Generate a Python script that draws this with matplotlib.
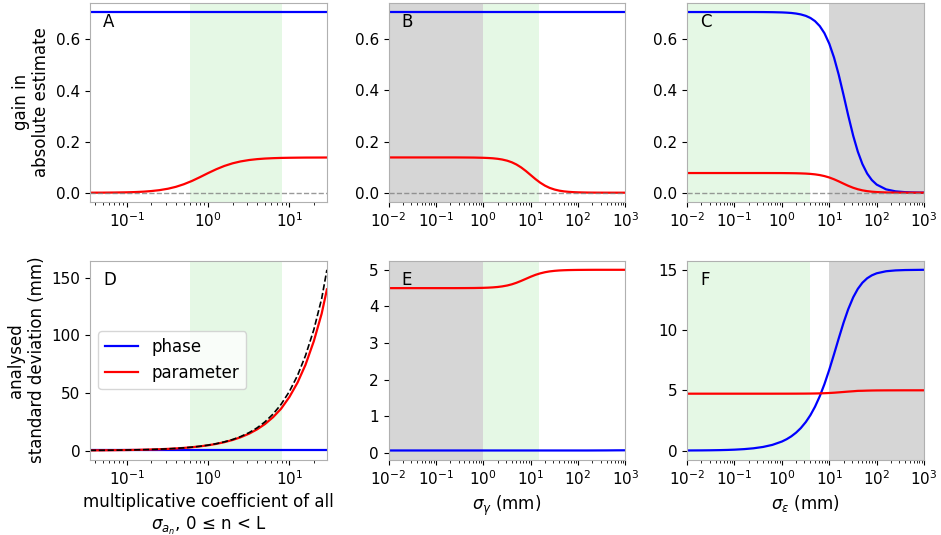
#!/usr/bin/env python3
# -*- coding: utf-8 -*-

import numpy as np
import matplotlib
matplotlib.use('Agg')
import matplotlib.pyplot as plt
from matplotlib.ticker import LogLocator, NullFormatter

# ---- data ----
# panels A / D : multiplicative coefficient of all sigma_a_n
x_coef = [0.035, 0.05, 0.07, 0.1, 0.13, 0.16, 0.2, 0.25, 0.32, 0.4, 0.5, 0.63, 0.79, 1.0, 1.26, 1.58, 2.0, 2.5, 3.2, 4.0,
          5.0, 6.3, 7.9, 10., 12.6, 15.8, 20., 25., 29.]
gain_param_A = [0.0002, 0.0004, 0.0009, 0.0017, 0.0029, 0.0043, 0.0067, 0.0101, 0.0158, 0.0232, 0.0332, 0.0461, 0.0609,
                0.0771, 0.0921, 0.1048, 0.1152, 0.1225, 0.1281, 0.1315, 0.1338, 0.1353, 0.1363, 0.1369, 0.1373, 0.1376,
                0.1377, 0.1378, 0.1379]
gain_phase_A = [0.707]*len(x_coef)
std_param_D = [0.16, 0.23, 0.32, 0.46, 0.6, 0.74, 0.92, 1.15, 1.47, 1.84, 2.3, 2.9, 3.63, 4.6, 5.8, 7.27, 9.2, 11.5, 14.7,
               18.4, 23., 29., 36.3, 46.5, 59., 74.5, 95., 119., 140.]
std_prior_D = [0.165, 0.235, 0.33, 0.47, 0.61, 0.75, 0.94, 1.18, 1.5, 1.88, 2.35, 2.96, 3.72, 4.72, 5.98, 7.55, 9.6, 12.1,
               15.6, 19.7, 24.9, 31.7, 40.1, 51.3, 65.2, 82.5, 105., 132., 157.]
std_phase_D = [0.07]*len(x_coef)

# panels B-C / E-F : sigma_gamma and sigma_epsilon share the same sampling
x_sig = [0.01, 0.02, 0.03, 0.05, 0.07, 0.1, 0.16, 0.25, 0.4, 0.63, 1.0, 1.26, 1.58, 2.0, 2.5, 3.2, 4.0, 5.0, 6.3, 7.9,
         10., 12.6, 15.8, 20., 25., 32., 40., 50., 63., 79., 100., 158., 250., 400., 630., 1000.]

gain_param_B = [0.138]*8 + [0.1378, 0.1375, 0.1366, 0.1358, 0.1347, 0.1327, 0.1299, 0.1252, 0.1190, 0.1104, 0.0988,
                0.0850, 0.0690, 0.0533, 0.0395, 0.0276, 0.0190, 0.0123, 0.0081, 0.0053, 0.0034, 0.0022, 0.0014,
                0.00055, 0.00022, 0.0001, 0.00003, 0.00001]
gain_phase_B = [0.707]*len(x_sig)
std_param_E = [4.50]*8 + [4.501, 4.503, 4.508, 4.513, 4.520, 4.531, 4.547, 4.572, 4.604, 4.646, 4.698, 4.753, 4.811,
               4.862, 4.902, 4.934, 4.956, 4.972, 4.982, 4.988, 4.9925, 4.995, 4.997, 4.999, 5.0, 5.0, 5.0, 5.0]
std_phase_E = [0.07]*32 + [0.071, 0.072, 0.074, 0.075]

gain_phase_C = [0.707]*8 + [0.7068, 0.7064, 0.7055, 0.7046, 0.7033, 0.7010, 0.6977, 0.6920, 0.6838, 0.6714, 0.6520,
                0.6243, 0.5831, 0.5287, 0.4621, 0.3823, 0.3038, 0.2227, 0.1608, 0.1121, 0.0750, 0.0496, 0.0318,
                0.0131, 0.0053, 0.0021, 0.0008, 0.0003]
gain_param_C = [0.077]*8 + [0.0770, 0.0769, 0.0768, 0.0766, 0.0764, 0.0761, 0.0756, 0.0748, 0.0736, 0.0718, 0.0690,
                0.0651, 0.0596, 0.0526, 0.0445, 0.0355, 0.0272, 0.0193, 0.0136, 0.0093, 0.0061, 0.0040, 0.0025,
                0.0010, 0.0004, 0.00016, 0.00007, 0.00003]
std_phase_F = [0.0075, 0.015, 0.0225, 0.0375, 0.0525, 0.075, 0.12, 0.1875, 0.30, 0.472, 0.749, 0.943, 1.181, 1.493,
               1.860, 2.370, 2.942, 3.638, 4.507, 5.511, 6.708, 7.995, 9.298, 10.607, 11.712, 12.72, 13.416, 13.927,
               14.297, 14.54, 14.71, 14.88, 14.95, 14.98, 14.99, 15.0]
std_param_F = [4.72]*10 + [4.721, 4.721, 4.722, 4.723, 4.725, 4.727, 4.731, 4.737, 4.746, 4.759, 4.777,
               4.801, 4.830, 4.862, 4.893, 4.923, 4.954, 4.962, 4.975, 4.984, 4.990, 4.9957, 4.998, 5.0, 5.0, 5.0]

# shaded ranges
green_A = (0.6, 8.)
green_B = (1., 15.)
gray_B = (0.01, 1.)
green_C = (0.01, 4.)
gray_C = (10., 1000.)

plt.rcParams['font.size'] = 11

fig = plt.figure(figsize=(9.41, 5.35), dpi=100)
fig.subplots_adjust(left=0.0956, right=0.982, top=0.9944, bottom=0.1411, wspace=0.26, hspace=0.297)

green = '#e5f8e5'
gray = '#d6d6d6'
lw = 1.6

axes = [fig.add_subplot(2, 3, i+1) for i in range(6)]
axA, axB, axC, axD, axE, axF = axes

# row 1 : gains
axA.axvspan(green_A[0], green_A[1], color=green, lw=0, zorder=0)
axA.plot(x_coef, gain_phase_A, color='blue', lw=lw)
axA.plot(x_coef, gain_param_A, color='red', lw=lw)

axB.axvspan(gray_B[0], gray_B[1], color=gray, lw=0, zorder=0)
axB.axvspan(green_B[0], green_B[1], color=green, lw=0, zorder=0)
axB.plot(x_sig, gain_phase_B, color='blue', lw=lw)
axB.plot(x_sig, gain_param_B, color='red', lw=lw)

axC.axvspan(green_C[0], green_C[1], color=green, lw=0, zorder=0)
axC.axvspan(gray_C[0], gray_C[1], color=gray, lw=0, zorder=0)
axC.plot(x_sig, gain_phase_C, color='blue', lw=lw)
axC.plot(x_sig, gain_param_C, color='red', lw=lw)

for ax in (axA, axB, axC):
    ax.axhline(0, color='gray', ls='--', lw=1, alpha=0.8)

# row 2 : analysed standard deviations
axD.axvspan(green_A[0], green_A[1], color=green, lw=0, zorder=0)
axD.plot(x_coef, std_phase_D, color='blue', lw=lw, label='phase')
axD.plot(x_coef, std_param_D, color='red', lw=lw, label='parameter')
axD.plot(x_coef, std_prior_D, color='black', lw=1.2, ls='--')

axE.axvspan(gray_B[0], gray_B[1], color=gray, lw=0, zorder=0)
axE.axvspan(green_B[0], green_B[1], color=green, lw=0, zorder=0)
axE.plot(x_sig, std_phase_E, color='blue', lw=lw)
axE.plot(x_sig, std_param_E, color='red', lw=lw)

axF.axvspan(green_C[0], green_C[1], color=green, lw=0, zorder=0)
axF.axvspan(gray_C[0], gray_C[1], color=gray, lw=0, zorder=0)
axF.plot(x_sig, std_phase_F, color='blue', lw=lw)
axF.plot(x_sig, std_param_F, color='red', lw=lw)

for ax in (axA, axD):
    ax.set_xscale('log')
    ax.set_xlim(x_coef[0], x_coef[-1])
for ax in (axB, axC, axE, axF):
    ax.set_xscale('log')
    ax.set_xlim(1e-2, 1e3)
    ax.xaxis.set_major_locator(LogLocator(base=10, numticks=10))

for ax, letter in zip(axes, 'ABCDEF'):
    ax.xaxis.set_minor_locator(LogLocator(base=10, subs=np.arange(2, 10)*1.0, numticks=20))
    ax.xaxis.set_minor_formatter(NullFormatter())
    ax.text(0.055, 0.95, letter, transform=ax.transAxes, fontsize=12, va='top', ha='left')
    for sp in ax.spines.values():
        sp.set_color('#b0b0b0')
    ax.tick_params(labelsize=11)

axD.legend(loc='center left', fontsize=12)

axA.set_ylabel('gain in\nabsolute estimate', fontsize=12)
axD.set_ylabel('analysed\nstandard deviation (mm)', fontsize=12)
axD.set_xlabel('multiplicative coefficient of all\n$\\sigma_{a_n}$, 0 \u2264 n < L', fontsize=12)
axE.set_xlabel('$\\sigma_\\gamma$ (mm)', fontsize=12)
axF.set_xlabel('$\\sigma_\\varepsilon$ (mm)', fontsize=12)

fig.savefig('out.png', dpi=100)
plt.close()
